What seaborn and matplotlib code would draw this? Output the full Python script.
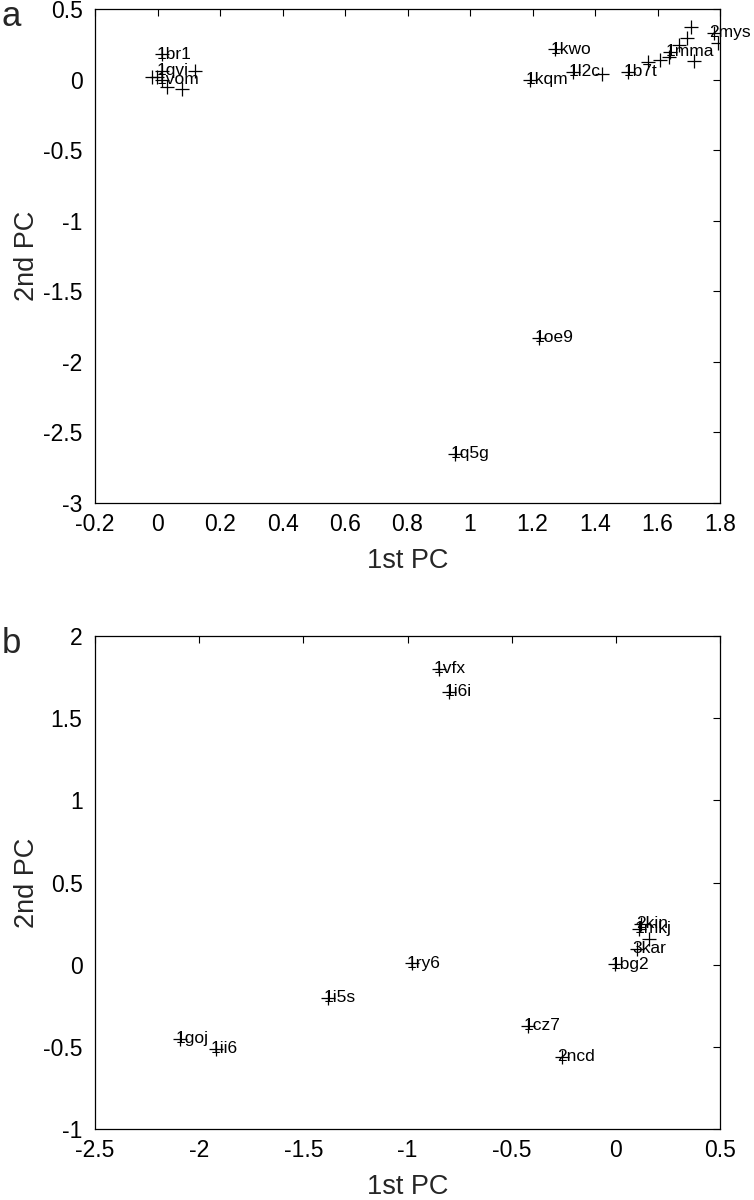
import matplotlib
matplotlib.use("Agg")
import matplotlib.pyplot as plt
import seaborn as sns
import pandas as pd

# panel a: PCA of structures
names_a = ["1br1", "1qvi", "", "", "", "1vom", "", "",
           "1kwo", "1kqm", "1l2c", "", "1b7t", "", "", "", "1mma",
           "", "", "", "", "2mys", "", "1oe9", "1q5g"]
pc1_a = [0.013, 0.013, 0.12, -0.019, -0.003, 0.013, 0.031, 0.079,
         1.272, 1.192, 1.331, 1.421, 1.507, 1.571, 1.608, 1.635, 1.64,
         1.667, 1.693, 1.707, 1.717, 1.779, 1.792, 1.222, 0.952]
pc2_a = [0.179, 0.063, 0.06, 0.02, 0.02, -0.003, -0.055, -0.069,
         0.214, -0.003, 0.056, 0.039, 0.056, 0.122, 0.139, 0.162, 0.197,
         0.245, 0.292, 0.375, 0.134, 0.332, 0.261, -1.83, -2.654]

# panel b
names_b = ["1vfx", "1i6i", "2kin", "1mkj", "", "3kar", "1bg2",
           "1ry6", "1i5s", "1goj", "1ii6", "1cz7", "2ncd"]
pc1_b = [-0.85, -0.80, 0.12, 0.113, 0.161, 0.103, -0.004,
         -0.98, -1.38, -2.09, -1.92, -0.42, -0.26]
pc2_b = [1.80, 1.66, 0.25, 0.22, 0.156, 0.099, 0.002,
         0.01, -0.20, -0.45, -0.51, -0.37, -0.56]

xticks_a = [-0.2, 0, 0.2, 0.4, 0.6, 0.8, 1, 1.2, 1.4, 1.6, 1.8]
yticks_a = [-3, -2.5, -2, -1.5, -1, -0.5, 0, 0.5]
xticks_b = [-2.5, -2, -1.5, -1, -0.5, 0, 0.5]
yticks_b = [-1, -0.5, 0, 0.5, 1, 1.5, 2]

sns.set_style("white")
plt.rcParams["font.family"] = ["Liberation Sans", "DejaVu Sans"]


def panel(ax, names, xs, ys, xticks, yticks, letter):
    df = pd.DataFrame({"pc1": xs, "pc2": ys, "name": names})
    sns.scatterplot(data=df, x="pc1", y="pc2", marker="+", color="black",
                    s=110, linewidth=0.9, ax=ax, legend=False)
    for _, r in df.iterrows():
        if r["name"]:
            ax.annotate(r["name"], (r["pc1"], r["pc2"]), xytext=(-3.5, 0),
                        textcoords="offset points", ha="left", va="center",
                        fontsize=12.5, color="black")
    ax.set_xlim(xticks[0], xticks[-1])
    ax.set_ylim(yticks[0], yticks[-1])
    ax.set_xticks(xticks)
    ax.set_yticks(yticks)
    ax.set_xticklabels(["%g" % v for v in xticks])
    ax.set_yticklabels(["%g" % v for v in yticks])
    ax.tick_params(direction="in", length=5, width=0.8, labelsize=16.5,
                   top=True, right=True, colors="black")
    ax.tick_params(axis="x", pad=7)
    ax.tick_params(axis="y", pad=9)
    for sp in ax.spines.values():
        sp.set_visible(True)
        sp.set_color("black")
        sp.set_linewidth(0.9)
    ax.set_xlabel("1st PC", fontsize=19.5, labelpad=9)
    ax.set_ylabel("2nd PC", fontsize=19.5, labelpad=2)
    ax.text(-0.15, 0.965, letter, transform=ax.transAxes, fontsize=25,
            ha="left", va="baseline")


fig = plt.figure(figsize=(7.54, 12), dpi=100)
ax1 = fig.add_axes([0.126, 0.581, 0.829, 0.4115])
ax2 = fig.add_axes([0.126, 0.059, 0.829, 0.411])
panel(ax1, names_a, pc1_a, pc2_a, xticks_a, yticks_a, "a")
panel(ax2, names_b, pc1_b, pc2_b, xticks_b, yticks_b, "b")

fig.savefig("out.png", dpi=100)
